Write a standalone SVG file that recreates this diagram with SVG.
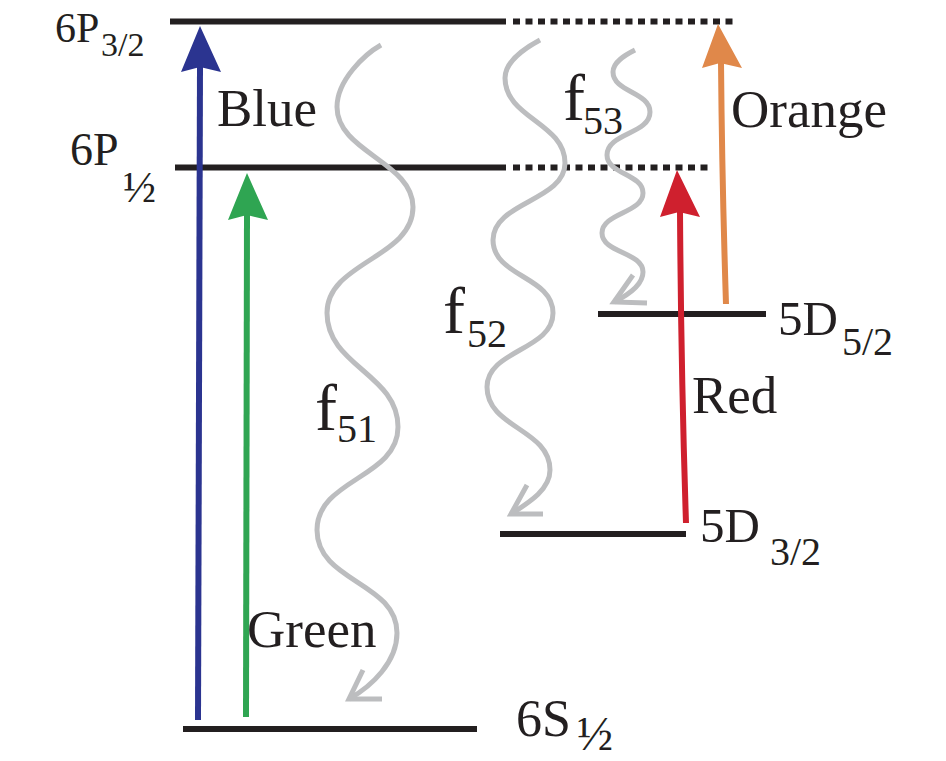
<svg xmlns="http://www.w3.org/2000/svg" width="946" height="761" viewBox="0 0 946 761">
<style>
.lvl{stroke:#231f20;stroke-width:6;fill:none}
.dot{stroke:#231f20;stroke-width:6;fill:none;stroke-dasharray:7 5.5}
text{fill:#231f20;font-family:'Liberation Serif','Times New Roman',serif}
.wave{stroke:#bcbdbf;stroke-width:5;fill:none;stroke-linecap:butt;stroke-linejoin:miter}
.beam{stroke-width:6;fill:none}
</style>
<rect width="946" height="761" fill="#ffffff"/>
<g id="level-6P32">
<line class="lvl" x1="170" y1="21.5" x2="506" y2="21.5"/>
<line class="dot" x1="513" y1="21.5" x2="737" y2="21.5"/>
<text x="55" y="42" font-size="42">6P</text>
<text x="101" y="56" font-size="34">3/2</text>
</g>
<g id="level-6P12">
<line class="lvl" x1="175" y1="167.5" x2="506" y2="167.5"/>
<line class="dot" x1="513" y1="167.5" x2="711" y2="167.5"/>
<text x="70" y="165" font-size="46">6P</text>
<text x="123" y="202" font-size="44">½</text>
</g>
<g id="level-5D52">
<line class="lvl" x1="598" y1="314" x2="766" y2="314"/>
<text x="778" y="335" font-size="49">5D</text>
<text x="842" y="355" font-size="40">5/2</text>
</g>
<g id="level-5D32">
<line class="lvl" x1="500" y1="534" x2="686" y2="534"/>
<text x="700" y="542" font-size="49">5D</text>
<text x="770" y="565" font-size="40">3/2</text>
</g>
<g id="level-6S12">
<line class="lvl" x1="183" y1="729" x2="477" y2="729"/>
<text x="516" y="736" font-size="52">6S</text>
<text x="577" y="750" font-size="48">½</text>
</g>
<g id="connectors">
<g id="blue">
<line class="beam" stroke="#2b3490" x1="198" y1="720" x2="200" y2="66"/>
<polygon fill="#2b3490" points="200,26 221,72 200,67 181,72"/>
</g>
<g id="green">
<line class="beam" stroke="#2fa552" x1="246" y1="717" x2="247" y2="214"/>
<polygon fill="#2fa552" points="247,173 268,220 247,215 228,220"/>
</g>
<g id="red">
<path class="beam" stroke="#cf202e" d="M686,523 Q681,370 680,211"/>
<polygon fill="#cf202e" points="677,170 700,217 679,212 660,217"/>
</g>
<g id="orange">
<path class="beam" stroke="#e0884a" d="M726,304 Q722,180 721,62"/>
<polygon fill="#e0884a" points="718,24 742,68 720,63 702,68"/>
</g>
<g id="f51">
<path class="wave" d="M381,45 C365,54 337,80 337,107 C337,152 413,162 413,207 C413,258 327,262 327,313 C327,366 398,374 398,427 C398,478 317,479 317,530 C317,582 397,582 397,633 C397,662 372,686 349,699"/>
<polyline class="wave" points="363,670 349,699 382,699"/>
</g>
<g id="f52">
<path class="wave" d="M540,40 C525,48 505,62 505,78 C505,118 565,123 565,163 C565,201 493,202 493,240 C493,277 553,276 553,313 C553,350 487,350 487,387 C487,428 550,429 550,470 C550,490 528,503 511,514"/>
<polyline class="wave" points="527,485 511,514 543,514"/>
</g>
<g id="f53">
<path class="wave" d="M635,50 C625,55 613,62 613,72 C613,92 650,92 650,112 C650,134 607,133 607,155 C607,174 643,174 643,193 C643,213 602,213 602,233 C602,253 643,252 643,272 C643,285 628,295 614,302"/>
<polyline class="wave" points="633,275 614,302 647,303"/>
</g>
</g>
<g id="labels">
<text x="217" y="126" font-size="53">Blue</text>
<text x="731" y="127" font-size="53">Orange</text>
<text x="692" y="413" font-size="53">Red</text>
<text x="247" y="647" font-size="53">Green</text>
<text x="563" y="120" font-size="66">f</text>
<text x="583" y="134" font-size="40">53</text>
<text x="443" y="333" font-size="66">f</text>
<text x="467" y="347" font-size="40">52</text>
<text x="315" y="430" font-size="66">f</text>
<text x="337" y="442" font-size="40">51</text>
</g>
</svg>
